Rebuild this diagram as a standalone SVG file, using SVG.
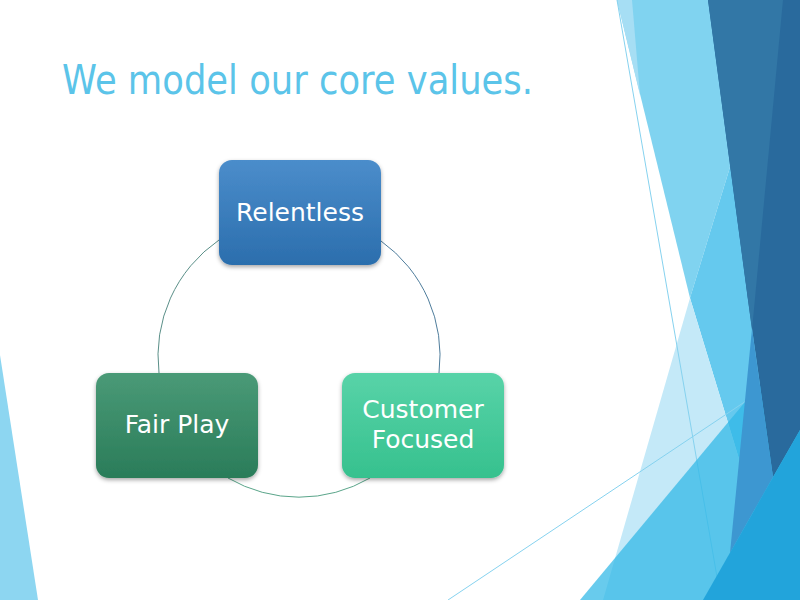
<svg xmlns="http://www.w3.org/2000/svg" width="800" height="600" viewBox="0 0 800 600">
<defs>
<style>
.title{font-family:"DejaVu Sans","Liberation Sans",sans-serif;font-size:40px;fill:#5bc4e9}
.lbl{font-family:"DejaVu Sans","Liberation Sans",sans-serif;font-size:25px;fill:#ffffff;text-anchor:middle}
.arc{fill:none;stroke-width:1}
.thin{stroke:#86d2ef;stroke-width:1;fill:none}
</style>
<linearGradient id="gBlue" x1="0" y1="0" x2="0" y2="1"><stop offset="0" stop-color="#4b8dcb"/><stop offset="1" stop-color="#2b6ead"/></linearGradient>
<linearGradient id="gDark" x1="0" y1="0" x2="0" y2="1"><stop offset="0" stop-color="#4a9a77"/><stop offset="1" stop-color="#2a7c59"/></linearGradient>
<linearGradient id="gLight" x1="0" y1="0" x2="0" y2="1"><stop offset="0" stop-color="#58d3a8"/><stop offset="1" stop-color="#36c18e"/></linearGradient>
<filter id="sh" x="-10%" y="-10%" width="120%" height="130%"><feDropShadow dx="0" dy="2" stdDeviation="2" flood-color="#000" flood-opacity="0.35"/></filter>
</defs>
<rect width="800" height="600" fill="#ffffff"/>
<g id="background">
<polygon points="0,355 38,600 0,600" fill="#8dd6f1"/>
<polygon points="617,0 781,0 690,298" fill="#80d3f0"/>
<polygon points="617,0 632,0 640,95" fill="#a6def4"/>
<polygon points="781,0 800,0 800,600 782,600 690,298" fill="#65c9ee"/>
<polygon points="690,298 782,600 603,600" fill="#c4e9f8"/>
<line class="thin" x1="617" y1="0" x2="721" y2="600"/>
<line class="thin" x1="448" y1="600" x2="800" y2="365"/>
<polygon points="580,600 800,336 800,600" fill="#30b8e6" fill-opacity="0.73"/>
<polygon points="708,0 800,0 800,430 773,477 748,300" fill="#296a9d"/>
<polygon points="708,0 783,0 752,330 748,300" fill="#3277a6"/>
<polygon points="752,329 773,477 730,553" fill="#3d97d1"/>
<polygon points="703,600 800,430 800,600" fill="#22a4db"/>
</g>
<text class="title" x="62" y="94" textLength="471" lengthAdjust="spacingAndGlyphs">We model our core values.</text>
<g id="connectors">
<path class="arc" d="M219,240 A141,141 0 0 0 159,373" stroke="#5a8f88"/>
<path class="arc" d="M381,241 A141,141 0 0 1 439,373" stroke="#4f7d9c"/>
<path class="arc" d="M370,478 A141,141 0 0 1 228,478" stroke="#5aa58a"/>
</g>
<g id="node-relentless">
<rect x="219" y="160" width="162" height="105" rx="13" fill="url(#gBlue)" filter="url(#sh)"/>
<text class="lbl" x="300" y="221">Relentless</text>
</g>
<g id="node-fairplay">
<rect x="96" y="373" width="162" height="105" rx="13" fill="url(#gDark)" filter="url(#sh)"/>
<text class="lbl" x="177" y="433">Fair Play</text>
</g>
<g id="node-customer">
<rect x="342" y="373" width="162" height="105" rx="13" fill="url(#gLight)" filter="url(#sh)"/>
<text class="lbl" x="423" y="418">Customer</text>
<text class="lbl" x="423" y="448">Focused</text>
</g>
</svg>
